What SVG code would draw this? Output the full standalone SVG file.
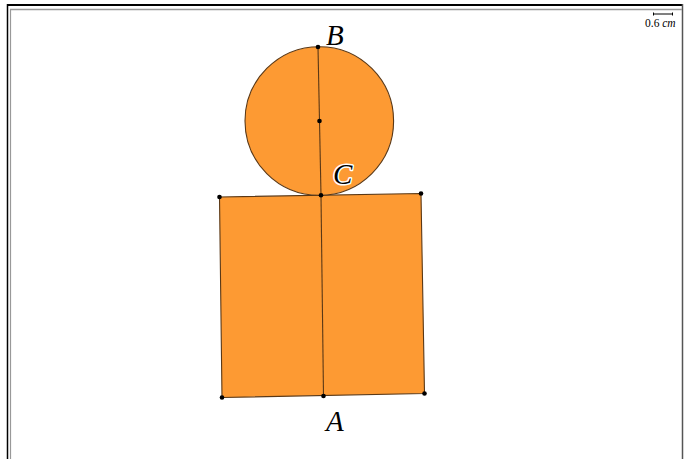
<svg xmlns="http://www.w3.org/2000/svg" width="685" height="459" viewBox="0 0 685 459">
<style>
.shape{fill:#FD9A33;stroke:#5a3816;stroke-width:1.1}
.seg{stroke:#5a3816;stroke-width:1.1;fill:none}
.pt{fill:#000}
.lbl{font-family:"Liberation Serif",serif;font-style:italic;font-size:29px;fill:#000}
.halo{stroke:#fff;stroke-width:3;paint-order:stroke;stroke-linejoin:round}
.sc{font-family:"Liberation Serif",serif;font-size:11.5px;fill:#000}
</style>
<rect width="685" height="459" fill="#fff"/>
<g id="frame">
<line x1="7" y1="5" x2="683" y2="5" stroke="#000" stroke-width="2"/>
<line x1="7.5" y1="4" x2="7.5" y2="459" stroke="#000" stroke-width="1.5"/>
<line x1="682.5" y1="4" x2="682.5" y2="459" stroke="#555" stroke-width="1.5"/>
<line x1="10" y1="9.5" x2="682" y2="9.5" stroke="#999" stroke-width="1.5"/>
<line x1="10.5" y1="9" x2="10.5" y2="459" stroke="#999" stroke-width="1.2"/>
</g>
<g id="scale">
<line x1="653" y1="14" x2="673" y2="14" stroke="#000" stroke-width="1"/>
<line x1="653.5" y1="12.5" x2="653.5" y2="15.5" stroke="#000" stroke-width="1"/>
<line x1="672.5" y1="12.5" x2="672.5" y2="15.5" stroke="#000" stroke-width="1"/>
<text class="sc" x="645" y="26.5">0.6 <tspan font-style="italic">cm</tspan></text>
</g>
<g id="rectangle">
<polygon class="shape" points="219.5,197 421,193.5 424.5,393.5 222,397.5"/>
</g>
<g id="circle">
<circle class="shape" cx="319.3" cy="121" r="74.3"/>
</g>
<g id="connectors">
<line class="seg" x1="318" y1="47" x2="321" y2="195.3"/>
<line class="seg" x1="321" y1="195.3" x2="323.5" y2="396"/>
</g>
<g id="points">
<circle class="pt" cx="219.5" cy="197" r="2.3"/>
<circle class="pt" cx="421" cy="193.5" r="2.3"/>
<circle class="pt" cx="424.5" cy="393.5" r="2.3"/>
<circle class="pt" cx="222" cy="397.5" r="2.3"/>
<circle class="pt" cx="318" cy="47" r="2.3"/>
<circle class="pt" cx="319.5" cy="121" r="2.3"/>
<circle class="pt" cx="321" cy="195.3" r="2.3"/>
<circle class="pt" cx="323.5" cy="396" r="2.3"/>
</g>
<g id="node-B"><text class="lbl" x="326" y="45">B</text></g>
<g id="node-C"><text class="lbl halo" x="333" y="184">C</text></g>
<g id="node-A"><text class="lbl" x="326" y="431">A</text></g>
</svg>
